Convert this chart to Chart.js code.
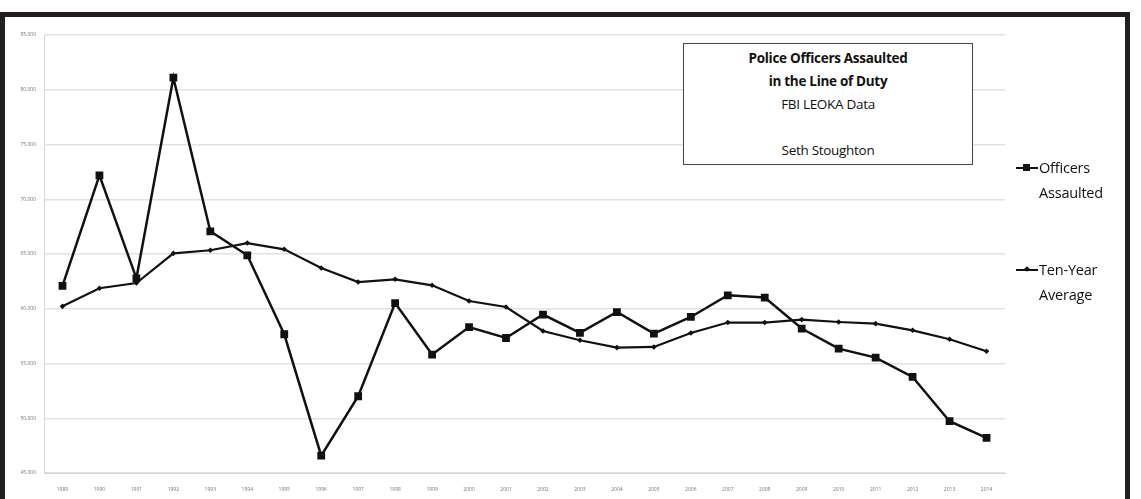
<!DOCTYPE html>
<html>
<head>
<meta charset="utf-8">
<script src="https://cdn.jsdelivr.net/npm/chart.js@4"></script>
<style>
  html, body { margin: 0; padding: 0; background: #fff; }
  #wrap { position: relative; width: 1141px; height: 499px; overflow: hidden; }
  #chart { position: absolute; left: 0; top: 0; }
  #frame {
    position: absolute; left: 0; top: 12px; width: 1120px; height: 520px;
    border: 5px solid #231f20; pointer-events: none;
  }
  #titleBox {
    position: absolute; left: 683px; top: 43px; width: 290px; height: 122px;
    border: 1.5px solid #444; background: #fff;
    font-family: "Open Sans", sans-serif; font-size: 13.5px; color: #111;
    text-align: center; line-height: 23px; box-sizing: border-box; padding-top: 3px;
    letter-spacing: -0.3px;
  }
  #titleBox .b { font-weight: bold; }
  .leg {
    position: absolute; left: 1016px; font-family: "Open Sans", sans-serif;
    font-size: 14.5px; color: #111; line-height: 25px; letter-spacing: -0.2px;
  }
  .leg .mk { position: absolute; left: 0; top: 12px; width: 22px; height: 2px; background: #111; }
  .leg .sq { position: absolute; left: 7px; top: 9px; width: 7px; height: 7px; background: #111; }
  .leg .dm { position: absolute; left: 9px; top: 10px; width: 4px; height: 4px; background: #111; transform: rotate(45deg); }
  .leg .tx { padding-left: 23px; }
  .leg .tx2 { padding-left: 23px; }
</style>
</head>
<body>
<div id="wrap">
  <canvas id="chart" width="1141" height="499"></canvas>
  <div id="titleBox">
    <div class="b">Police Officers Assaulted</div>
    <div class="b">in the Line of Duty</div>
    <div>FBI LEOKA Data</div>
    <div>&nbsp;</div>
    <div>Seth Stoughton</div>
  </div>
  <div class="leg" style="top:155px;">
    <div class="mk"></div><div class="sq"></div>
    <div class="tx">Officers</div>
    <div class="tx2">Assaulted</div>
  </div>
  <div class="leg" style="top:257px;">
    <div class="mk"></div><div class="dm"></div>
    <div class="tx">Ten-Year</div>
    <div class="tx2">Average</div>
  </div>
  <div id="frame"></div>
</div>
<script>
// years on the x axis
const years = ["1989", "1990", "1991", "1992", "1993", "1994", "1995", "1996", "1997",
  "1998", "1999", "2000", "2001", "2002", "2003", "2004", "2005", "2006", "2007",
  "2008", "2009", "2010", "2011", "2012", "2013", "2014"];

// officers assaulted
const officersAssaulted = [62080, 72180, 62780, 81100, 67070, 64880, 57670, 46580, 52010,
  60520, 55820, 58330, 57330, 59470, 57790, 59700, 57730, 59250, 61230,
  61020, 58190, 56360, 55540, 53770, 49730, 48200];

// ten-year average
const tenYearAverage = [60220, 61870, 62350, 65060, 65340, 66000, 65430, 63720, 62440,
  62690, 62140, 60710, 60160, 57970, 57120, 56450, 56510, 57790, 58740,
  58740, 59010, 58790, 58640, 58030, 57210, 56120];

const yMin = 45000, yMax = 85000, yStep = 5000;

const ctx = document.getElementById("chart").getContext("2d");

new Chart(ctx, {
  type: "line",
  data: {
    labels: years,
    datasets: [
      {
        label: "Officers Assaulted",
        data: officersAssaulted,
        borderColor: "#111",
        backgroundColor: "#111",
        borderWidth: 2.5,
        pointStyle: "rect",
        pointRadius: 5.5,
        pointBorderWidth: 0,
        tension: 0
      },
      {
        label: "Ten-Year Average",
        data: tenYearAverage,
        borderColor: "#111",
        backgroundColor: "#111",
        borderWidth: 2.2,
        pointStyle: "rectRot",
        pointRadius: 2.8,
        pointBorderWidth: 0,
        tension: 0
      }
    ]
  },
  options: {
    responsive: false,
    animation: false,
    layout: { padding: { left: 0, right: 136, top: 35, bottom: 0 } },
    plugins: {
      legend: { display: false },
      title: { display: false },
      tooltip: { enabled: false }
    },
    scales: {
      x: {
        offset: true,
        grid: { display: false },
        border: { color: "#d4d4d4", width: 1 },
        ticks: {
          color: "#777",
          font: { family: "Open Sans", size: 5 },
          maxRotation: 0,
          autoSkip: false,
          padding: 6
        },
        afterFit: (scale) => { scale.height = 26; }
      },
      y: {
        min: yMin,
        max: yMax,
        grid: { color: "#e2e2e2", lineWidth: 1.5, drawTicks: false },
        border: { color: "#d4d4d4", width: 1 },
        ticks: {
          stepSize: yStep,
          color: "#777",
          font: { family: "Open Sans", size: 5 },
          padding: 8,
          callback: (v) => v.toLocaleString("en-US")
        },
        afterFit: (scale) => { scale.width = 44; }
      }
    }
  }
});
</script>
</body>
</html>
